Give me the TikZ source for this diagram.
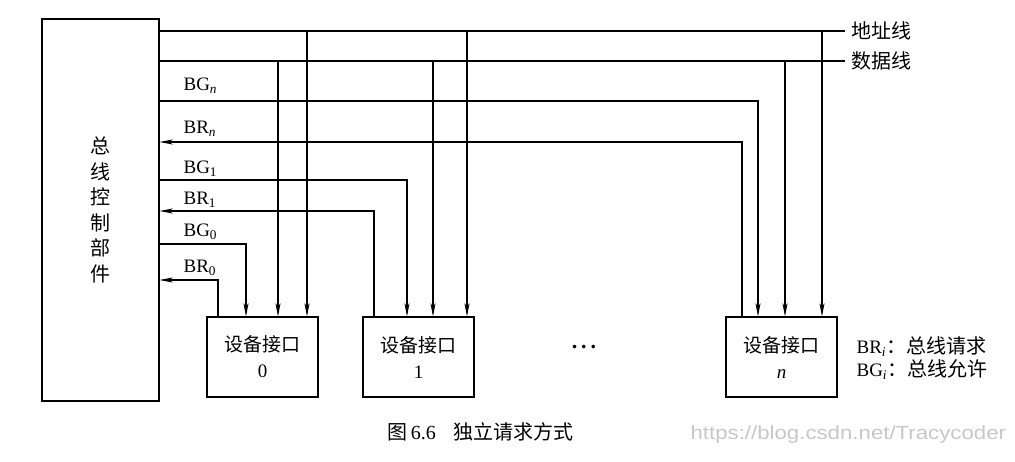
\documentclass[tikz,border=0pt]{standalone}
\usepackage{fontspec}
\setmainfont{Liberation Serif}
\newfontfamily\cjk{Noto Sans CJK SC}
\newfontfamily\wmfont{Liberation Sans}
\usetikzlibrary{arrows.meta}
\newcommand\latfs{\fontsize{19}{22}\selectfont}
\newcommand\cjkfs{\cjk\fontsize{20}{25.6}\selectfont}
\begin{document}
\begin{tikzpicture}[x=1pt,y=-1pt,line width=1.15pt,
  arr/.style={-{Stealth[length=13pt,width=5pt,inset=3pt]}},
  devbox/.style={draw,minimum width=111pt,minimum height=80pt,inner sep=0pt,align=center,font=\fontsize{19}{26}\selectfont},
  sig/.style={anchor=base west,font=\latfs,inner sep=0pt},
  busname/.style={anchor=west,font=\cjkfs,inner sep=0pt,xshift=6pt},
]
\useasboundingbox (0,0) rectangle (1015,462);

% controller
\node[draw,minimum width=117pt,minimum height=382pt,inner sep=0pt,align=center,font=\cjkfs] (ctrl) at (100.5,210) {总\\线\\控\\制\\部\\件};

% devices
\node[devbox] (dev0) at (262.5,357) {{\cjk 设备接口}\\0};
\node[devbox] (dev1) at (418.5,357) {{\cjk 设备接口}\\1};
\node[devbox] (devn) at (781.5,357) {{\cjk 设备接口}\\\textit{n}};
\node[font=\fontsize{22}{24}\selectfont\bfseries] (dots) at (584,347) {.\hspace{4pt}.\hspace{4pt}.};

% bus line labels
\node[busname] (addr) at (845,31) {地址线};
\node[busname] (data) at (845,61) {数据线};
\draw (ctrl.east |- addr.west) -- ([xshift=-6pt]addr.west);
\draw (ctrl.east |- data.west) -- ([xshift=-6pt]data.west);

% address verticals
\coordinate (a0) at (307,31);
\coordinate (a1) at (467,31);
\coordinate (an) at (822,31);
\draw[arr] (a0) -- (a0 |- dev0.north);
\draw[arr] (a1) -- (a1 |- dev1.north);
\draw[arr] (an) -- (an |- devn.north);
% data verticals
\coordinate (d0) at (278,61);
\coordinate (d1) at (433,61);
\coordinate (dn) at (785,61);
\draw[arr] (d0) -- (d0 |- dev0.north);
\draw[arr] (d1) -- (d1 |- dev1.north);
\draw[arr] (dn) -- (dn |- devn.north);

% grant / request lines
\coordinate (bgn) at (758,101);
\coordinate (brn) at (742,142);
\coordinate (bg1) at (407,180);
\coordinate (br1) at (374,211);
\coordinate (bg0) at (246,244);
\coordinate (br0) at (218,280);
\draw[arr] (ctrl.east |- bgn) -- (bgn) -- (bgn |- devn.north);
\draw[arr] (brn |- devn.north) -- (brn) -- (ctrl.east |- brn);
\draw[arr] (ctrl.east |- bg1) -- (bg1) -- (bg1 |- dev1.north);
\draw[arr] (br1 |- dev1.north) -- (br1) -- (ctrl.east |- br1);
\draw[arr] (ctrl.east |- bg0) -- (bg0) -- (bg0 |- dev0.north);
\draw[arr] (br0 |- dev0.north) -- (br0) -- (ctrl.east |- br0);

% signal labels
\node[sig] (lbgn) at (183,91) {BG\textsubscript{\textit{n}}};
\node[sig] (lbrn) at (183,134) {BR\textsubscript{\textit{n}}};
\node[sig] (lbg1) at (183,174) {BG\textsubscript{1}};
\node[sig] (lbr1) at (183,205) {BR\textsubscript{1}};
\node[sig] (lbg0) at (183,237) {BG\textsubscript{0}};
\node[sig] (lbr0) at (183,273) {BR\textsubscript{0}};

% legend
\node[sig] (legbr) at (856,354) {BR\textsubscript{\textit{i}}{\cjk\fontsize{20}{24}\selectfont ：总线请求}};
\node[sig] (legbg) at (856,377) {BG\textsubscript{\textit{i}}{\cjk\fontsize{20}{24}\selectfont ：总线允许}};

% caption
\node[anchor=base west,inner sep=0pt,font=\fontsize{20}{24}\selectfont] (cap) at (387,439) {{\cjk 图}\,6.6\hspace{18pt}{\cjk 独立请求方式}};
\node[anchor=base west,inner sep=0pt,font=\wmfont\fontsize{19}{22}\selectfont,text=black!22] (wm) at (690,439) {\scalebox{1.17}[1]{https://blog.csdn.net/Tracycoder}};
\end{tikzpicture}
\end{document}
